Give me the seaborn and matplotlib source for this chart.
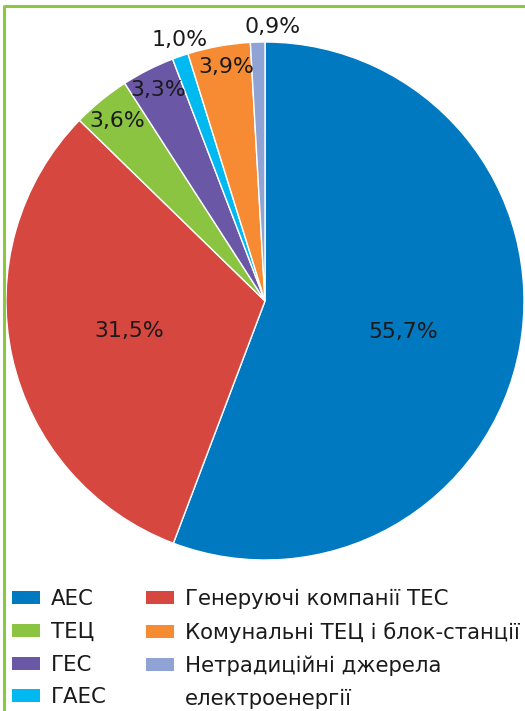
import matplotlib
matplotlib.use("Agg")
import matplotlib.pyplot as plt
from matplotlib.lines import Line2D
from matplotlib.patches import Patch
import numpy as np
import seaborn as sns

categories = ["АЕС", "Генеруючі компанії ТЕС", "ТЕЦ", "ГЕС", "ГАЕС",
              "Комунальні ТЕЦ і блок-станції", "Нетрадиційні джерела"]
legend_extra_line = "електроенергії"
values = [55.7, 31.5, 3.6, 3.3, 1.0, 3.9, 0.9]
value_labels = ["55,7%", "31,5%", "3,6%", "3,3%", "1,0%", "3,9%", "0,9%"]
colors = ["#0079C1", "#D64740", "#8BC440", "#6A58A6", "#00B9F1", "#F68B33", "#8FA3D4"]
label_radii = [0.546, 0.535, 0.90, 0.913, 1.06, 0.917, 1.058]
label_angle_shift = [-2.4, 0.0, 0.0, 0.0, -1.0, -0.9, -3.3]
legend_order = [0, 2, 3, 4, 1, 5, 6]

sns.set_theme(style="white")
plt.rcParams['font.family'] = ['DejaVu Sans']

W, H = 525, 711
fig = plt.figure(figsize=(W / 100, H / 100), dpi=100)
cx, cy, R = 265, 301, 259
ax = fig.add_axes([(cx - R) / W, (H - cy - R) / H, 2 * R / W, 2 * R / H])
wedges, _ = ax.pie(values, colors=colors, startangle=90, counterclock=False,
                   radius=1, wedgeprops=dict(edgecolor="white", linewidth=1.0))
ax.set_xlim(-1, 1)
ax.set_ylim(-1, 1)
ax.set_aspect("equal")
ax.axis("off")

for w, lab, r, sh in zip(wedges, value_labels, label_radii, label_angle_shift):
    ang = np.deg2rad((w.theta1 + w.theta2) / 2 + sh)
    ax.text(r * np.cos(ang), r * np.sin(ang), lab, ha="center", va="center",
            fontsize=15.8, color="#1a1a1a")

handles = [wedges[i] for i in legend_order] + [Patch(facecolor="none", edgecolor="none")]
labels = [categories[i] for i in legend_order] + [legend_extra_line]
leg = fig.legend(handles, labels, loc="upper left",
                 bbox_to_anchor=(12 / W, 1 - 589 / H), ncol=2, frameon=False,
                 fontsize=15.3, borderpad=0, borderaxespad=0,
                 handlelength=1.32, handleheight=0.56, handletextpad=0.5,
                 columnspacing=1.85, labelspacing=0.6)
for h in leg.legend_handles[:7]:
    h.set_edgecolor("none")
for t in leg.get_texts():
    t.set_color("#1a1a1a")

green = "#8DC63F"
fig.add_artist(Line2D([3.5 / W, 1], [1 - 5.5 / H, 1 - 5.5 / H], transform=fig.transFigure,
                      color=green, linewidth=2.2, solid_capstyle="butt"))
fig.add_artist(Line2D([3.5 / W, 3.5 / W], [0, 1 - 4.5 / H], transform=fig.transFigure,
                      color=green, linewidth=2.2, solid_capstyle="butt"))

fig.savefig("out.png", dpi=100, facecolor="white")
